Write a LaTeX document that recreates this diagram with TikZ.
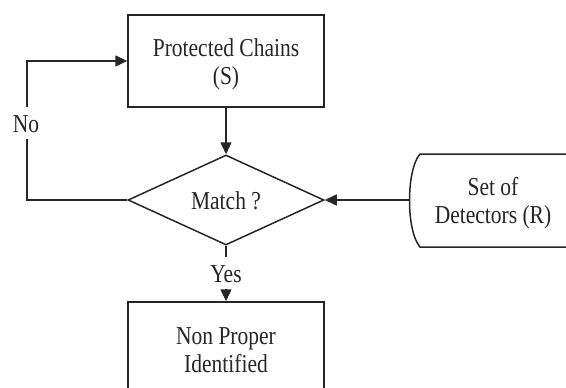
\documentclass[tikz,border=0pt]{standalone}
\usepackage{fontspec}
\usepackage{graphicx}
\setmainfont{Liberation Serif}
\usetikzlibrary{shapes.geometric,arrows.meta}
% text set slightly taller than wide, lines centred, set a little low
\newcommand\talltext[1]{\raisebox{-3.5pt}[\height][\depth]{\scalebox{1}[1.2]{%
  \fontsize{21.5}{23.3}\selectfont\begin{tabular}{@{}c@{}}#1\end{tabular}}}}
\tikzset{
  flowline/.style={line width=1.5pt, draw=black!85},
  tip/.style={-{Triangle[length=12pt,width=11pt]}},
  procbox/.style={draw=black!85, line width=1.5pt, rectangle, minimum width=196pt,
    inner sep=0pt, text=black!85},
  decision/.style={draw=black!85, line width=1.5pt, diamond, aspect=2.18,
    minimum width=196pt, minimum height=90pt, inner sep=0pt, text=black!85},
  lbl/.style={fill=white, inner sep=2pt, text=black!85},
  plain/.style={inner sep=0pt, text=black!85}
}
\begin{document}
\begin{tikzpicture}[x=1pt, y=-1pt]
  \useasboundingbox (0,0) rectangle (566,388);
  \clip (0,0) rectangle (566,388);

  % process boxes and the decision
  \node[procbox, minimum height=92pt] (prot) at (226,61) {\talltext{Protected Chains\\(S)}};
  \node[decision] (match) at (226,200) {\talltext{Match ?}};
  \node[procbox, minimum height=94pt] (found) at (226,349) {\talltext{Non Proper\\Identified}};

  % detector set: box with a bowed left side running off to the right
  \node[plain] (det) at (493,200) {\talltext{Set of\\Detectors (R)}};
  \draw[flowline] (580,154) -- (420,154)
    .. controls (406,170) and (406,231) .. (420,247) -- (580,247);
  \coordinate (detin) at (409,200);

  % connectors
  \draw[flowline, tip] (prot.south) -- (match.north);
  \draw[flowline, tip] (detin) -- (match.east);
  \draw[flowline, tip] (match.west) -| (27,130) |- (prot.west);
  \node[lbl] (no) at (26,123) {\talltext{No}};
  \draw[flowline, tip] (match.south) -- (found.north);
  \node[lbl] (yes) at (226,273) {\talltext{Yes}};
\end{tikzpicture}
\end{document}
